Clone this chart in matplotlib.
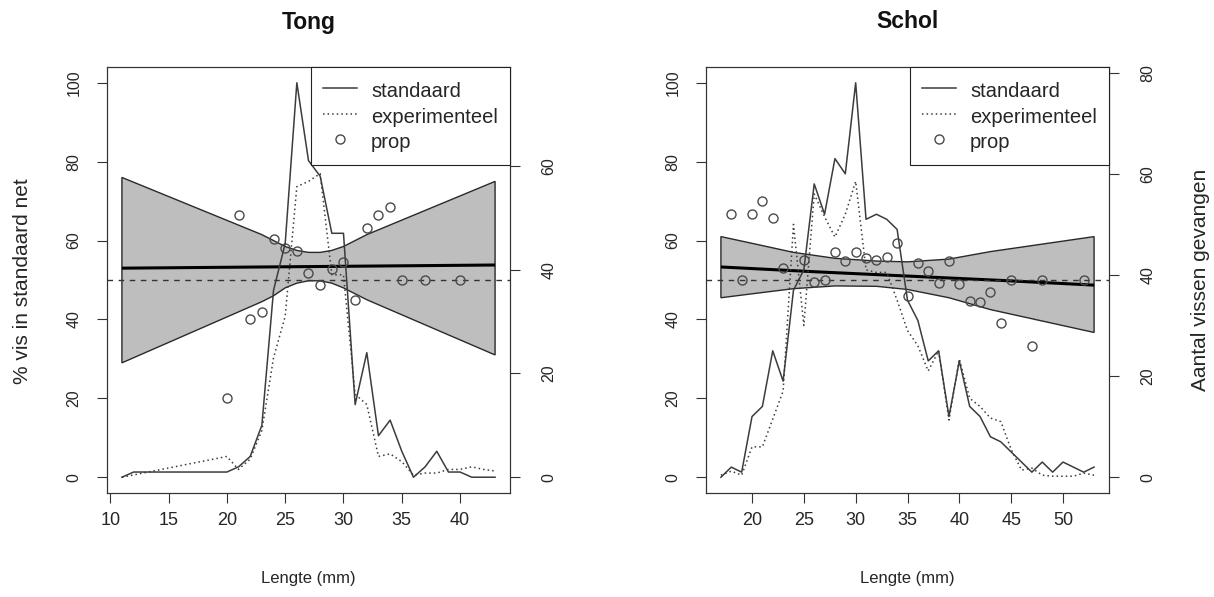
import matplotlib
matplotlib.use('Agg')
import matplotlib.pyplot as plt
from matplotlib.lines import Line2D
from matplotlib.ticker import MultipleLocator

plt.rcParams['font.family'] = ['Liberation Sans', 'DejaVu Sans']

# ---------------- data: Tong ----------------
tong_std_len = [11, 12, 13, 14, 15, 16, 17, 18, 19, 20, 21, 22, 23, 24, 25, 26, 27,
                28, 29, 30, 31, 32, 33, 34, 35, 36, 37, 38, 39, 40, 41, 42, 43]
tong_std = [0, 1, 1, 1, 1, 1, 1, 1, 1, 1, 2, 4, 10, 36, 45, 76, 61,
            58, 47, 47, 14, 24, 8, 11, 5, 0, 2, 5, 1, 1, 0, 0, 0]
tong_exp_len = [11, 20, 21, 22, 23, 24, 25, 26, 27, 28, 29, 30, 31, 32, 33, 34,
                35, 36, 37, 38, 39, 40, 41, 42, 43]
tong_exp = [0, 4, 1.5, 3.5, 9, 23, 31, 56, 57, 58.5, 39, 39, 16, 14, 4, 4.5,
            3, 0.4, 0.8, 0.8, 1.5, 1.5, 2, 1.5, 1.2]
tong_prop_len = [20, 21, 22, 23, 24, 25, 26, 27, 28, 29, 30, 31, 32, 33, 34, 35, 37, 40]
tong_prop = [20, 66.5, 40, 42, 60.3, 58, 57.3, 51.7, 48.7, 52.9, 54.5, 45, 63.2,
             66.6, 68.6, 50, 50, 50]
tong_fit_len = [11, 19, 27, 35, 43]
tong_fit = [53.0, 53.2, 53.4, 53.6, 53.8]
tong_band_len = [11, 23, 24, 25, 26, 27, 28, 29, 30, 31, 32, 43]
tong_band_hi = [76, 61.5, 60, 58.5, 57.5, 57, 57, 57.5, 58.5, 60, 61.5, 75]
tong_band_lo = [29, 44.5, 46, 48, 49.2, 49.8, 49.8, 49.2, 48, 46.5, 45, 31]

# ---------------- data: Schol ----------------
schol_len = list(range(17, 54))
schol_std = [0, 2, 1, 12, 14, 25, 19, 37, 41, 58, 52, 63, 60, 78, 51, 52, 51, 49,
             35, 31, 23, 25, 12, 23, 14, 12, 8, 7, 5, 3, 1, 3, 1, 3, 2, 1, 2]
schol_exp = [0.4, 1.2, 0.4, 6, 6, 11.5, 17, 50, 30, 56, 51.5, 47.5, 52, 58.5, 41,
             40.5, 40.5, 35, 29, 26, 21, 25, 11.3, 23.4, 15.6, 14, 11.7, 11, 5.5,
             1.4, 1.8, 0.4, 0.2, 0.2, 0.2, 0.8, 0.4]
schol_prop_len = [18, 19, 20, 21, 22, 23, 25, 26, 27, 28, 29, 30, 31, 32, 33, 34,
                  35, 36, 37, 38, 39, 40, 41, 42, 43, 44, 45, 47, 48, 52]
schol_prop = [66.7, 50, 66.7, 70, 65.7, 53, 55, 49.5, 50, 57, 54.8, 57, 55.5, 55,
              55.8, 59.5, 46, 54.4, 52.2, 49.3, 54.8, 49, 44.8, 44.5, 47, 39, 50,
              33.3, 50, 50]
schol_fit_len = [17, 26, 35, 44, 53]
schol_fit = [53.3, 52.1, 51.0, 49.9, 48.7]
schol_band_len = [17, 20, 24, 28, 32, 35, 39, 43, 53]
schol_band_hi = [61, 59.3, 57, 55.5, 54.8, 54.6, 55.3, 57.2, 61]
schol_band_lo = [45.5, 46.5, 47.8, 48.5, 48.4, 47.6, 45.5, 42.5, 36.7]

tong_ticks = [10, 15, 20, 25, 30, 35, 40]
schol_ticks = [20, 25, 30, 35, 40, 45, 50]
pct_ticks = [0, 20, 40, 60, 80, 100]

W, H = 1214, 597
fig = plt.figure(figsize=(W / 100, H / 100), dpi=100)

LINE_C = '#3c3c3c'
AX_C = '#333333'
TXT_C = '#262626'
XTICK_FS = 13
YTICK_FS = 11.5
XLAB_FS = 12
YLAB_FS = 15
LEG_FS = 14.5


def panel(left_px, title, std_len, std, exp_len, exp, p_len, p, f_len, f,
          b_len, b_hi, b_lo, xticks, right_label=None):
    ax = fig.add_axes([left_px / W, 1 - 493 / H, 403 / W, 426 / H])
    xs = std_len + exp_len + p_len
    x0, x1 = min(xs), max(xs)
    r = x1 - x0
    ax.set_xlim(x0 - 0.04 * r, x1 + 0.04 * r)
    ax.set_ylim(-4, 104)

    poly_x = b_len + b_len[::-1]
    poly_y = b_hi + b_lo[::-1]
    ax.fill(poly_x, poly_y, facecolor='#bebebe', edgecolor='#2a2a2a', lw=1.0, zorder=1)
    ax.plot(f_len, f, color='black', lw=2.2, zorder=2, solid_capstyle='butt')
    ax.axhline(50, color='#333333', lw=1.0, ls=(0, (4, 4)), zorder=2)
    ax.plot(p_len, p, ls='none', marker='o', ms=6.5, mfc='none', mec='#4a4a4a',
            mew=1.0, zorder=3)

    ax.set_xticks(xticks)
    ax.set_xticklabels([str(t) for t in xticks], fontsize=XTICK_FS, color=TXT_C)
    ax.set_yticks(pct_ticks)
    ax.set_yticklabels([str(t) for t in pct_ticks], fontsize=YTICK_FS, color=TXT_C,
                       rotation=90, va='center', ha='right')
    ax.tick_params(direction='out', length=7.5, width=0.8, colors=AX_C)
    ax.tick_params(axis='x', pad=6, labelcolor=TXT_C)
    ax.tick_params(axis='y', pad=11, labelcolor=TXT_C)
    for s in ax.spines.values():
        s.set_color(AX_C)
        s.set_linewidth(0.8)

    ax2 = ax.twinx()
    cmax = max(max(std), max(exp))
    cmin = min(min(std), min(exp))
    cr = cmax - cmin
    ax2.set_ylim(cmin - 0.04 * cr, cmax + 0.04 * cr)
    ax2.plot(std_len, std, color=LINE_C, lw=1.1, zorder=4)
    ax2.plot(exp_len, exp, color=LINE_C, lw=1.1, ls=(0, (1, 2)), zorder=4)
    ax2.yaxis.set_major_locator(MultipleLocator(20))
    rt = [t for t in range(0, 101, 20) if t <= cmax + 0.04 * cr]
    ax2.set_yticks(rt)
    ax2.set_yticklabels([str(t) for t in rt], fontsize=YTICK_FS, color=TXT_C,
                        rotation=90, va='center', ha='left')
    ax2.tick_params(axis='y', direction='out', length=7.5, width=0.8, colors=AX_C,
                    labelcolor=TXT_C, pad=15)
    for s in ax2.spines.values():
        s.set_color(AX_C)
        s.set_linewidth(0.8)
    if right_label:
        ax2.set_ylabel(right_label, fontsize=YLAB_FS, color=TXT_C, labelpad=26)

    handles = [Line2D([], [], color=LINE_C, lw=1.1),
               Line2D([], [], color=LINE_C, lw=1.1, ls=(0, (1, 2))),
               Line2D([], [], ls='none', marker='o', ms=6.5, mfc='none',
                      mec='#4a4a4a', mew=1.0)]
    leg = ax2.legend(handles, ['standaard', 'experimenteel', 'prop'],
                     loc='upper right', borderaxespad=0, fancybox=False,
                     framealpha=1, edgecolor='#222222', fontsize=LEG_FS,
                     handlelength=1.7, handletextpad=0.7, handleheight=1.35,
                     labelspacing=0.15, borderpad=0.6)
    leg.get_frame().set_linewidth(0.8)
    leg.set_zorder(10)
    for t in leg.get_texts():
        t.set_color(TXT_C)

    cx = (left_px + 201.5) / W
    fig.text(cx, 1 - 22 / H, title, ha='center', va='center', fontsize=16.5,
             fontweight='bold', color='#111111')
    fig.text(cx, 1 - 578 / H, 'Lengte (mm)', ha='center', va='center',
             fontsize=XLAB_FS, color=TXT_C)
    return ax, ax2


axL, axL2 = panel(107, 'Tong', tong_std_len, tong_std, tong_exp_len, tong_exp,
                  tong_prop_len, tong_prop, tong_fit_len, tong_fit,
                  tong_band_len, tong_band_hi, tong_band_lo, tong_ticks)
axR, axR2 = panel(706, 'Schol', schol_len, schol_std, schol_len, schol_exp,
                  schol_prop_len, schol_prop, schol_fit_len, schol_fit,
                  schol_band_len, schol_band_hi, schol_band_lo, schol_ticks,
                  right_label='Aantal vissen gevangen')

fig.text(23 / W, 1 - 281 / H, '% vis in standaard net', rotation=90,
         ha='center', va='center', fontsize=YLAB_FS, color=TXT_C)

fig.savefig('out.png', dpi=100, facecolor='white')
